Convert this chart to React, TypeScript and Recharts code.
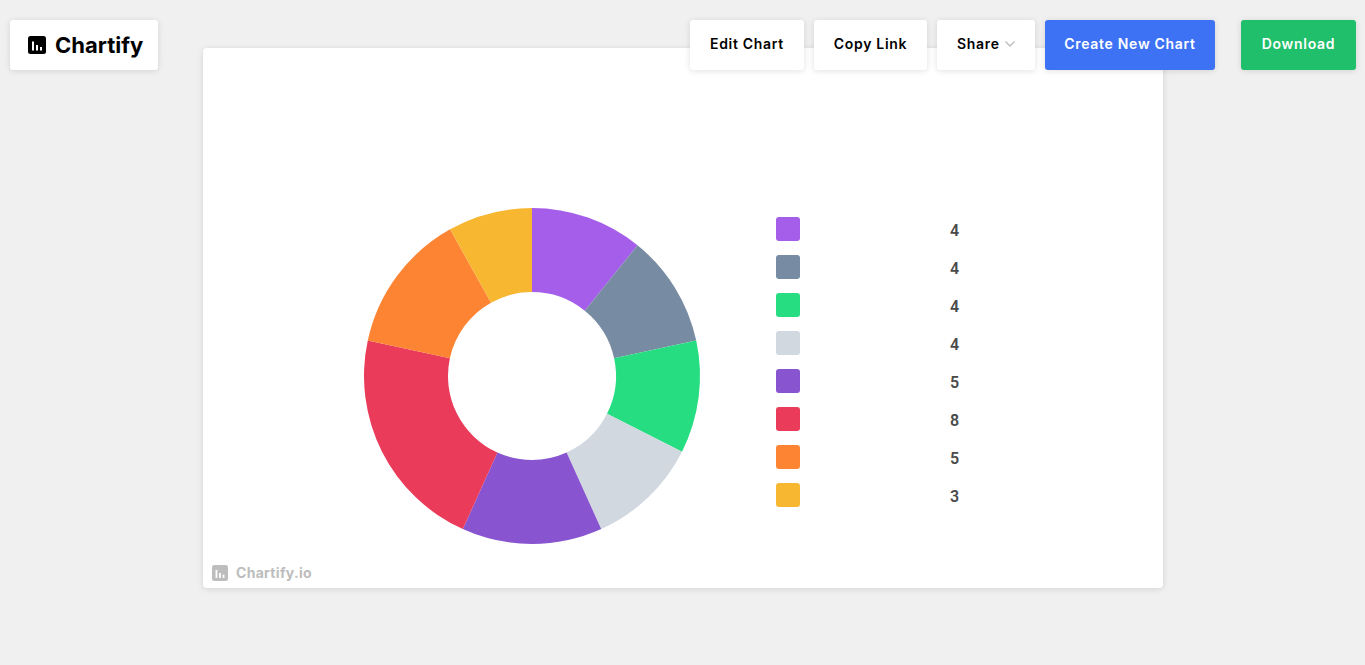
import { PieChart, Pie, Cell } from "recharts"

const sliceValues = [4, 4, 4, 4, 5, 8, 5, 3]
const sliceColors = [
  "#a55eea",
  "#778ca3",
  "#26de81",
  "#d1d8e0",
  "#8854d0",
  "#eb3b5a",
  "#fd8432",
  "#f7b731",
]
const headerButtons = [
  { label: "Edit Chart", left: 690, width: 114 },
  { label: "Copy Link", left: 814, width: 113 },
]

const font = "Inter, sans-serif"
const shadow = "0 1px 6px rgba(0,0,0,0.12)"

const chartData = sliceValues.map((value, i) => ({ id: i, value }))

function BarsIcon({ size, background, left, top }: { size: number; background: string; left: number; top: number }) {
  const bar = (x: number, h: number) => (
    <rect x={x} y={14.5 - h} width={2} height={h} fill="#fff" />
  )
  return (
    <svg width={size} height={size} viewBox="0 0 18 18" style={{ position: "absolute", left, top }}>
      <rect width={18} height={18} rx={2.5} fill={background} />
      {bar(4, 9)}
      {bar(8, 5.5)}
      {bar(12, 3.5)}
    </svg>
  )
}

const buttonStyle: React.CSSProperties = {
  position: "absolute",
  top: 20,
  height: 50,
  lineHeight: "48px",
  borderRadius: 3,
  background: "#fff",
  boxShadow: shadow,
  fontFamily: font,
  fontWeight: 600,
  fontSize: 14,
  letterSpacing: 0.7,
  textAlign: "center",
  color: "#000",
}

export default function App() {
  return (
    <div style={{ position: "fixed", left: 0, top: 0, width: 1365, height: 665, background: "#f0f0f0", overflow: "hidden" }}>
      {/* card with the chart */}
      <div style={{ position: "absolute", left: 203, top: 48, width: 960, height: 540, background: "#fff", borderRadius: 4, boxShadow: shadow }}>
        <PieChart width={960} height={540} margin={{ top: 0, right: 0, bottom: 0, left: 0 }}>
          <Pie
            data={chartData}
            dataKey="value"
            cx={329}
            cy={328}
            innerRadius={84}
            outerRadius={168}
            startAngle={90}
            endAngle={-270}
            stroke="none"
            isAnimationActive={false}
          >
            {chartData.map((d) => (
              <Cell key={d.id} fill={sliceColors[d.id]} />
            ))}
          </Pie>
        </PieChart>

        {chartData.map((d) => (
          <div key={d.id}>
            <div style={{ position: "absolute", left: 573, top: 169 + d.id * 38, width: 24, height: 24, borderRadius: 3, background: sliceColors[d.id] }} />
            <div style={{ position: "absolute", left: 747, top: 173 + d.id * 38, lineHeight: "20px", fontFamily: "Roboto, sans-serif", fontWeight: 600, fontSize: 16, color: "#4a4a4a" }}>
              {d.value}
            </div>
          </div>
        ))}

        <BarsIcon size={16} background="#bdbdbd" left={9} top={517} />
        <div style={{ position: "absolute", left: 33, top: 515, lineHeight: "20px", fontFamily: font, fontWeight: 700, fontSize: 14, letterSpacing: 0.3, color: "#bdbdbd" }}>
          Chartify.io
        </div>
      </div>

      {/* logo */}
      <div style={{ ...buttonStyle, left: 10, width: 148 }}>
        <BarsIcon size={18} background="#000" left={18} top={16} />
        <div style={{ position: "absolute", left: 45, top: 1, fontSize: 22, fontWeight: 700, letterSpacing: 0 }}>Chartify</div>
      </div>

      {/* header buttons */}
      {headerButtons.map((b) => (
        <div key={b.label} style={{ ...buttonStyle, left: b.left, width: b.width }}>
          {b.label}
        </div>
      ))}
      <div style={{ ...buttonStyle, left: 937, width: 98 }}>
        <span style={{ position: "absolute", left: 20 }}>Share</span>
        <svg width={10} height={6} viewBox="0 0 10 6" style={{ position: "absolute", left: 68, top: 21 }}>
          <path d="M0.5 0.5 L5 5 L9.5 0.5" fill="none" stroke="#bdbdbd" strokeWidth={1.4} />
        </svg>
      </div>
      <div style={{ ...buttonStyle, left: 1045, width: 170, background: "#3c72f3", color: "#fff" }}>Create New Chart</div>
      <div style={{ ...buttonStyle, left: 1241, width: 115, background: "#20bf6b", color: "#fff" }}>Download</div>
    </div>
  )
}
